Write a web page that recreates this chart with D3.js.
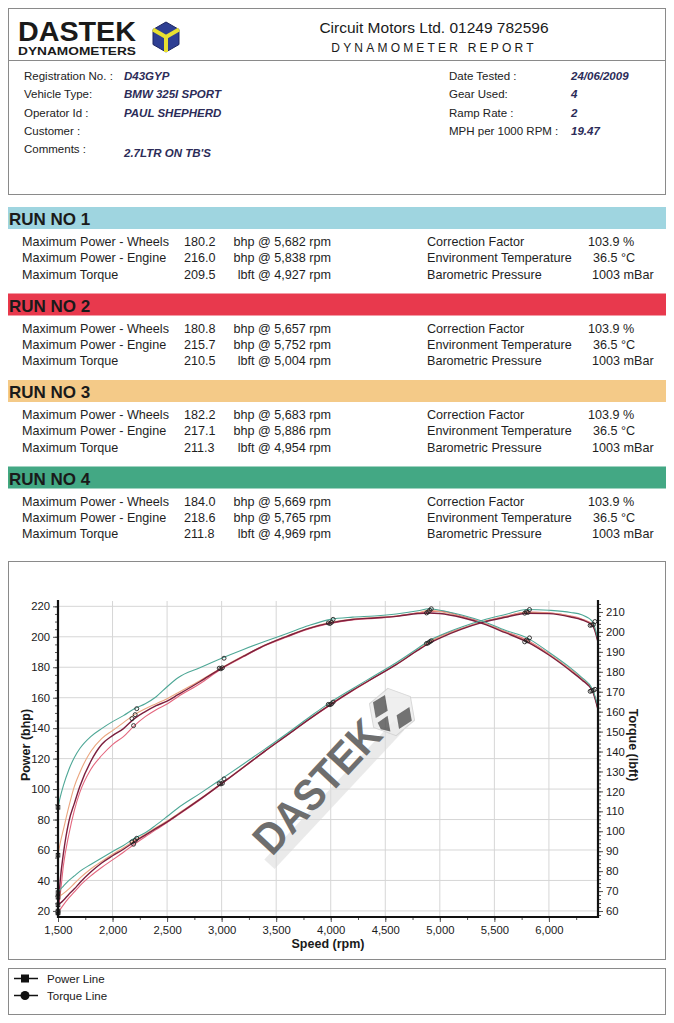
<!DOCTYPE html>
<html><head><meta charset="utf-8">
<script src="https://cdn.jsdelivr.net/npm/d3@7"></script>
<style>
body{margin:0;background:#fff}
svg{display:block;font-family:"Liberation Sans",Arial,sans-serif}
</style>
</head><body>
<svg id="c" width="674" height="1023"></svg>
<script>
// ---------- report data ----------
const infoLeftLabels = ["Registration No. :", "Vehicle Type:", "Operator Id :", "Customer :", "Comments :"];
const infoLeftValues = ["D43GYP", "BMW 325I SPORT", "PAUL SHEPHERD", "", "2.7LTR ON TB'S"];
const infoRightLabels = ["Date Tested :", "Gear Used:", "Ramp Rate :", "MPH per 1000 RPM :"];
const infoRightValues = ["24/06/2009", "4", "2", "19.47"];

const runNames = ["RUN NO 1", "RUN NO 2", "RUN NO 3", "RUN NO 4"];
const rowLabels = ["Maximum Power - Wheels", "Maximum Power - Engine", "Maximum Torque"];
const maxWheels = ["180.2", "180.8", "182.2", "184.0"];
const maxWheelsRpm = ["5,682", "5,657", "5,683", "5,669"];
const maxEngine = ["216.0", "215.7", "217.1", "218.6"];
const maxEngineRpm = ["5,838", "5,752", "5,886", "5,765"];
const maxTorque = ["209.5", "210.5", "211.3", "211.8"];
const maxTorqueRpm = ["4,927", "5,004", "4,954", "4,969"];
const rightLabels = ["Correction Factor", "Environment Temperature", "Barometric Pressure"];
const correction = ["103.9 %", "103.9 %", "103.9 %", "103.9 %"];
const envTemp = ["36.5 °C", "36.5 °C", "36.5 °C", "36.5 °C"];
const baro = ["1003 mBar", "1003 mBar", "1003 mBar", "1003 mBar"];

// ---------- chart data ----------
const rpm = [1500,1520,1550,1600,1650,1700,1800,1900,2000,2100,2200,2300,2400,2500,2600,2800,3000,3200,3400,3600,3800,4000,4200,4400,4600,4800,4900,5000,5200,5400,5600,5800,6000,6200,6300,6400,6450];

const run1Torque = [59,75,89,105,114,122.5,135,143.5,148,151.5,156.5,160,163,165.3,168.5,175,181.8,187.8,193.4,197.8,201.8,204.5,206.2,207,207.8,209.2,209.5,209.2,207.2,204,199.6,195,188.4,180.4,176,170.2,161];
const run2Torque = [60,68,83,98.5,110.5,119.5,131,138,143.5,147.5,153,157.5,161,163.8,167.5,174,181.5,187.5,193.2,197.5,201.5,204.2,206,206.8,207.8,209.6,210,210.4,207.9,204.5,200.2,195.8,189,181,176.5,170.5,161.5];
const run3Torque = [88,94,101,112.5,122.5,129.5,140,146.5,150.5,154.5,158.5,161.5,164,166.5,169.5,175.5,182,188,193.5,198,202,204.8,206.5,207.2,208,209.6,210.8,210.2,207.6,204.3,200,195.5,188.8,180.8,176.3,170.7,161];
const run4Torque = [112,117,123,131,137,141.5,147.5,151.5,155,158,161.5,164,167.5,172.5,177,182,186.8,191.2,195.3,199.2,203.2,206.3,207.4,208,209,210.6,211.6,210.9,208.5,205.2,200.8,197,189.8,181.8,177.2,171.2,162.5];

const run1Power = [24,25,27,31,34.5,38.5,45.5,51.5,56.2,60.5,65.3,69.8,74.2,78.5,83.3,93.2,103.6,114.3,125.1,135.4,145.8,155.6,164.8,173.3,181.7,191.2,195.6,199.1,205,209.6,212.8,215.5,215.2,213,211.2,207.5,196.5];
const run2Power = [19,21,24,28.5,32.5,36.5,43,48.5,53.5,58.5,63.8,68.7,73.4,78,82.9,92.8,103.4,114.2,125,135.3,145.6,155.4,164.6,173.2,181.8,191.5,195.9,200.3,205.4,210,213.4,216.3,215.8,213.7,211.7,207.8,196.8];
const run3Power = [29,30,31.5,34.5,38,41.5,47.5,52.5,57.2,61.5,66.2,70.3,74.8,79,83.9,93.5,103.8,114.5,125.2,135.6,146,155.9,165,173.5,182,191.5,196.7,200,205.5,210,213.2,216,215.6,213.5,211.5,208,197];
const run4Power = [32,34,36.3,40,43,46,50.5,54.8,59,63,67.7,71.3,76.5,82,87.6,97,106.7,116.5,126.4,136.5,147,157.1,165.9,174.4,183,192.5,197.4,200.8,206.4,211,214.6,217.9,217.4,216,214.5,210,198];

const markerIdx = [10,16,21,26,31,35];
const powerTicks = d3.range(20, 221, 20);
const torqueTicks = d3.range(60, 211, 10);
const rpmTicks = d3.range(1500, 6001, 500);

const lineColors = ["#7c1f3e", "#e4667e", "#eba67f", "#4ea796"];
const barColors = ["#9fd5e0", "#e8394d", "#f4ca88", "#43a884"];

const powerSeries = [run1Power, run2Power, run3Power, run4Power];
const torqueSeries = [run1Torque, run2Torque, run3Torque, run4Torque];

// ---------- drawing ----------
const svg = d3.select("#c");
const navy = "#2c2c58";

// header box
svg.append("rect").attr("x", 8.5).attr("y", 8.5).attr("width", 657).attr("height", 186)
  .attr("fill", "none").attr("stroke", "#8a8a8a");
svg.append("line").attr("x1", 8).attr("x2", 666).attr("y1", 60.5).attr("y2", 60.5).attr("stroke", "#8a8a8a");

// logo
svg.append("text").attr("x", 18).attr("y", 41).attr("font-size", 28).attr("font-weight", "bold")
  .attr("fill", "#1a1a1a").attr("textLength", 118).attr("lengthAdjust", "spacingAndGlyphs").text("DASTEK");
svg.append("text").attr("x", 18).attr("y", 55).attr("font-size", 11).attr("font-weight", "bold")
  .attr("fill", "#1a1a1a").attr("textLength", 118).attr("lengthAdjust", "spacingAndGlyphs").text("DYNAMOMETERS");
const cube = svg.append("g").attr("transform", "translate(166,37)");
const hex = d3.range(6).map(i => { const a = Math.PI / 3 * i - Math.PI / 2; return [15 * Math.cos(a), 15 * Math.sin(a)]; });
cube.append("polygon").attr("points", hex.map(p => p.join(",")).join(" ")).attr("fill", "#2e3f93").attr("stroke", "#1c2560");
[1, 3, 5].forEach(i => cube.append("line").attr("x1", 0).attr("y1", 0).attr("x2", hex[i][0]).attr("y2", hex[i][1])
  .attr("stroke", "#e8e030").attr("stroke-width", 4));

svg.append("text").attr("x", 434).attr("y", 33).attr("text-anchor", "middle").attr("font-size", 15.5)
  .attr("fill", "#1a1a1a").text("Circuit Motors Ltd. 01249 782596");
svg.append("text").attr("x", 434).attr("y", 52).attr("text-anchor", "middle").attr("font-size", 12)
  .attr("letter-spacing", 3.2).attr("fill", "#1a1a1a").text("DYNAMOMETER REPORT");

// info block
const infoY = [80, 98, 117, 135, 153];
infoLeftLabels.forEach((t, i) => {
  svg.append("text").attr("x", 24).attr("y", infoY[i]).attr("font-size", 11.5).attr("fill", "#222").text(t);
  svg.append("text").attr("x", 124).attr("y", infoY[i] + (i === 4 ? 4 : 0)).attr("font-size", 11.5)
    .attr("font-weight", "bold").attr("font-style", "italic").attr("fill", navy).text(infoLeftValues[i]);
});
infoRightLabels.forEach((t, i) => {
  svg.append("text").attr("x", 449).attr("y", infoY[i]).attr("font-size", 11.5).attr("fill", "#222").text(t);
  svg.append("text").attr("x", 571).attr("y", infoY[i]).attr("font-size", 11.5)
    .attr("font-weight", "bold").attr("font-style", "italic").attr("fill", navy).text(infoRightValues[i]);
});

// runs
runNames.forEach((name, r) => {
  const top = 207 + r * 86.5;
  svg.append("rect").attr("x", 8).attr("y", top).attr("width", 658).attr("height", 22).attr("fill", barColors[r]);
  svg.append("text").attr("x", 9).attr("y", top + 18).attr("font-size", 17).attr("font-weight", "bold")
    .attr("fill", "#1a1a1a").text(name);
  const vals = [maxWheels[r], maxEngine[r], maxTorque[r]];
  const units = ["bhp @ " + maxWheelsRpm[r] + " rpm", "bhp @ " + maxEngineRpm[r] + " rpm", "lbft @ " + maxTorqueRpm[r] + " rpm"];
  const rvals = [correction[r], envTemp[r], baro[r]];
  rowLabels.forEach((lab, k) => {
    const y = top + 39 + k * 16.3;
    const g = svg.append("g").attr("font-size", 12.6).attr("fill", "#1e1e1e");
    g.append("text").attr("x", 22).attr("y", y).text(lab);
    g.append("text").attr("x", 184).attr("y", y).text(vals[k]);
    g.append("text").attr("x", 331).attr("y", y).attr("text-anchor", "end").text(units[k]);
    g.append("text").attr("x", 427).attr("y", y).text(rightLabels[k]);
    g.append("text").attr("x", [588, 593, 592][k]).attr("y", y).text(rvals[k]);
  });
});

// chart box
svg.append("rect").attr("x", 8.5).attr("y", 561.5).attr("width", 657).attr("height", 398)
  .attr("fill", "none").attr("stroke", "#8a8a8a");
// legend box
svg.append("rect").attr("x", 8.5).attr("y", 968.5).attr("width", 657).attr("height", 46)
  .attr("fill", "none").attr("stroke", "#8a8a8a");

const x = d3.scaleLinear().domain([1500, 6450]).range([58, 598]);
const yL = d3.scaleLinear().domain([16, 223.5]).range([917, 601]);
const yR = d3.scaleLinear().domain([57, 215.5]).range([917, 601]);

// grid
const grid = svg.append("g").attr("stroke", "#d6d6d6").attr("stroke-width", 1);
rpmTicks.slice(1).forEach(v => grid.append("line").attr("x1", x(v)).attr("x2", x(v)).attr("y1", 601).attr("y2", 917));
powerTicks.forEach(v => grid.append("line").attr("x1", 58).attr("x2", 598).attr("y1", yL(v)).attr("y2", yL(v)));

// watermark
const wm = svg.append("g").attr("transform", "translate(330,795) rotate(-47)").attr("opacity", 0.8);
wm.append("rect").attr("x", -92).attr("y", -4).attr("width", 190).attr("height", 14).attr("fill", "#dcdcdc").attr("opacity", 0.7);
wm.append("text").attr("x", -85).attr("y", 0).attr("font-size", 44).attr("font-weight", "bold")
  .attr("fill", "#4a4a4a").attr("textLength", 165).attr("lengthAdjust", "spacingAndGlyphs").text("DASTEK");
const wcube = svg.append("g").attr("transform", "translate(392,712) rotate(-10)").attr("opacity", 0.8);
const whex = d3.range(6).map(i => { const a = Math.PI / 3 * i - Math.PI / 2; return [24 * Math.cos(a), 24 * Math.sin(a)]; });
wcube.append("polygon").attr("points", whex.map(p => p.join(",")).join(" ")).attr("fill", "#ececec").attr("stroke", "#d0d0d0");
wcube.append("polygon").attr("points", [[-17, -13], [-4, -18], [-4, -2], [-17, 3]].map(p => p.join(",")).join(" ")).attr("fill", "#505050");
wcube.append("polygon").attr("points", [[-16, 8], [-5, 3], [-5, 19], [-14, 15]].map(p => p.join(",")).join(" ")).attr("fill", "#505050");
wcube.append("polygon").attr("points", [[4, 4], [18, -2], [18, 12], [4, 18]].map(p => p.join(",")).join(" ")).attr("fill", "#505050");

// curves
const lineP = d3.line().x((d, i) => x(rpm[i])).y(d => yL(d)).curve(d3.curveMonotoneX);
const lineT = d3.line().x((d, i) => x(rpm[i])).y(d => yR(d)).curve(d3.curveMonotoneX);
[1, 2, 0, 3].forEach(r => {
  svg.append("path").attr("d", lineT(torqueSeries[r])).attr("fill", "none").attr("stroke", lineColors[r]).attr("stroke-width", r === 0 ? 1.4 : 1.1);
  svg.append("path").attr("d", lineP(powerSeries[r])).attr("fill", "none").attr("stroke", lineColors[r]).attr("stroke-width", r === 0 ? 1.4 : 1.1);
});
// markers
const mk = svg.append("g").attr("fill", "none").attr("stroke", "#222").attr("stroke-width", 0.9);
[0, 1, 2, 3].forEach(r => {
  markerIdx.forEach(i => {
    mk.append("circle").attr("cx", x(rpm[i]) + (r - 1.5) * 1.6).attr("cy", yR(torqueSeries[r][i])).attr("r", 2);
    mk.append("circle").attr("cx", x(rpm[i]) + (r - 1.5) * 1.6).attr("cy", yL(powerSeries[r][i])).attr("r", 2);
  });
  mk.append("rect").attr("x", x(rpm[0]) - 1.8).attr("y", yR(torqueSeries[r][0]) - 1.8).attr("width", 3.6).attr("height", 3.6);
  mk.append("rect").attr("x", x(rpm[0]) - 1.8).attr("y", yL(powerSeries[r][0]) - 1.8).attr("width", 3.6).attr("height", 3.6);
});

// axes
const axL = svg.append("g").attr("transform", "translate(58,0)")
  .call(d3.axisLeft(yL).tickValues(powerTicks).tickSize(5).tickPadding(3));
const axLm = svg.append("g").attr("transform", "translate(58,0)")
  .call(d3.axisLeft(yL).tickValues(d3.range(20, 221, 5)).tickSize(3).tickFormat(""));
const axR = svg.append("g").attr("transform", "translate(598,0)")
  .call(d3.axisRight(yR).tickValues(torqueTicks).tickSize(5).tickPadding(3));
const axRm = svg.append("g").attr("transform", "translate(598,0)")
  .call(d3.axisRight(yR).tickValues(d3.range(58, 215, 2)).tickSize(3).tickFormat(""));
const axB = svg.append("g").attr("transform", "translate(0,917)")
  .call(d3.axisBottom(x).tickValues(rpmTicks).tickSize(5).tickPadding(4).tickFormat(d3.format(",")));
const axBm = svg.append("g").attr("transform", "translate(0,917)")
  .call(d3.axisBottom(x).tickValues(d3.range(1500, 6451, 250)).tickSize(3).tickFormat(""));
[axL, axLm, axR, axRm, axB, axBm].forEach(a => {
  a.selectAll("text").attr("font-size", 11.3).attr("fill", "#1a1a1a").attr("font-family", "Liberation Sans, Arial, sans-serif");
  a.selectAll(".tick line").attr("stroke", "#555");
  a.select(".domain").remove();
});
svg.append("line").attr("x1", 58).attr("x2", 58).attr("y1", 600).attr("y2", 918).attr("stroke", "#111").attr("stroke-width", 2.2);
svg.append("line").attr("x1", 598).attr("x2", 598).attr("y1", 600).attr("y2", 918).attr("stroke", "#111").attr("stroke-width", 2.2);
svg.append("line").attr("x1", 57).attr("x2", 599).attr("y1", 917).attr("y2", 917).attr("stroke", "#111").attr("stroke-width", 2.2);

// axis titles
svg.append("text").attr("transform", "translate(30,745) rotate(-90)").attr("text-anchor", "middle")
  .attr("font-size", 12.5).attr("font-weight", "bold").attr("fill", "#1a1a1a").text("Power (bhp)");
svg.append("text").attr("transform", "translate(629,745) rotate(90)").attr("text-anchor", "middle")
  .attr("font-size", 12.5).attr("font-weight", "bold").attr("fill", "#1a1a1a").text("Torque (lbft)");
svg.append("text").attr("x", 328).attr("y", 948).attr("text-anchor", "middle")
  .attr("font-size", 12.5).attr("font-weight", "bold").attr("fill", "#1a1a1a").text("Speed (rpm)");

// legend
const leg = svg.append("g");
leg.append("line").attr("x1", 14).attr("x2", 38).attr("y1", 978.5).attr("y2", 978.5).attr("stroke", "#111").attr("stroke-width", 1.5);
leg.append("rect").attr("x", 21).attr("y", 974.5).attr("width", 8).attr("height", 8).attr("fill", "#111");
leg.append("text").attr("x", 47).attr("y", 983).attr("font-size", 11.5).attr("fill", "#1a1a1a").text("Power Line");
leg.append("line").attr("x1", 14).attr("x2", 38).attr("y1", 995.5).attr("y2", 995.5).attr("stroke", "#111").attr("stroke-width", 1.5);
leg.append("circle").attr("cx", 25).attr("cy", 995.5).attr("r", 4.5).attr("fill", "#111");
leg.append("text").attr("x", 47).attr("y", 1000).attr("font-size", 11.5).attr("fill", "#1a1a1a").text("Torque Line");
</script>
</body></html>
